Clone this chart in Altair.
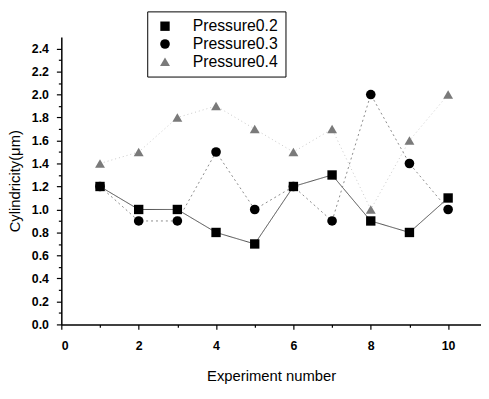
import altair as alt
import pandas as pd

experiments = [1, 2, 3, 4, 5, 6, 7, 8, 9, 10]
series_names = ["Pressure0.2", "Pressure0.3", "Pressure0.4"]
p02 = [1.2, 1.0, 1.0, 0.8, 0.7, 1.2, 1.3, 0.9, 0.8, 1.1]
p03 = [1.2, 0.9, 0.9, 1.5, 1.0, 1.2, 0.9, 2.0, 1.4, 1.0]
p04 = [1.4, 1.5, 1.8, 1.9, 1.7, 1.5, 1.7, 1.0, 1.6, 2.0]

x_ticks = [0, 1, 2, 3, 4, 5, 6, 7, 8, 9, 10]
y_ticks = [round(i * 0.1, 1) for i in range(0, 25)]

rows = []
for name, vals in zip(series_names, [p02, p03, p04]):
    for x, v in zip(experiments, vals):
        rows.append({"exp": x, "val": v, "series": name})
df = pd.DataFrame(rows)

xscale = alt.Scale(domain=[0, 10.85], nice=False, zero=False)
yscale = alt.Scale(domain=[0, 2.5], nice=False)

xaxis = alt.Axis(
    values=x_ticks,
    labelExpr="datum.value % 2 == 0 ? format(datum.value, 'd') : ''",
    tickSize={"condition": {"test": "datum.value % 2 == 1", "value": 3}, "value": 5},
    title="Experiment number",
    grid=False,
)
yaxis = alt.Axis(
    values=y_ticks,
    labelExpr="round(datum.value * 10) % 2 == 0 ? format(datum.value, '.1f') : ''",
    tickSize={"condition": {"test": "round(datum.value * 10) % 2 == 1", "value": 3}, "value": 5},
    title="Cylindricity(\u03bcm)",
    grid=False,
)

line_styles = {
    "Pressure0.2": {"color": "#4a4a4a", "strokeDash": [1, 0], "strokeWidth": 1},
    "Pressure0.3": {"color": "#8a8a8a", "strokeDash": [2, 3], "strokeWidth": 1},
    "Pressure0.4": {"color": "#c8c8c8", "strokeDash": [1, 3], "strokeWidth": 1},
}

base = alt.Chart(df)
layers = []
for name in series_names:
    st = line_styles[name]
    layers.append(
        base.transform_filter(alt.datum.series == name)
        .mark_line(color=st["color"], strokeDash=st["strokeDash"], strokeWidth=st["strokeWidth"])
        .encode(
            x=alt.X("exp:Q", scale=xscale, axis=xaxis),
            y=alt.Y("val:Q", scale=yscale, axis=yaxis),
        )
    )

points = base.mark_point(filled=True, opacity=1).encode(
    x=alt.X("exp:Q", scale=xscale, axis=xaxis),
    y=alt.Y("val:Q", scale=yscale, axis=yaxis),
    shape=alt.Shape(
        "series:N",
        scale=alt.Scale(domain=series_names, range=["square", "circle", "triangle-up"]),
        legend=alt.Legend(title=None),
    ),
    color=alt.Color(
        "series:N",
        scale=alt.Scale(domain=series_names, range=["#000000", "#000000", "#7a7a7a"]),
        legend=alt.Legend(title=None),
    ),
    size=alt.Size(
        "series:N",
        scale=alt.Scale(domain=series_names, range=[90, 100, 40]),
        legend=None,
    ),
)
layers.append(points)

chart = (
    alt.layer(*layers)
    .properties(
        width=425,
        height=291,
        autosize="none",
        padding={"left": 54, "top": 27, "right": 0, "bottom": 65},
    )
    .configure_view(stroke=None)
    .configure_axis(
        domainColor="#000000",
        domainWidth=1.5,
        tickColor="#000000",
        tickWidth=1.2,
        labelFont="Liberation Sans",
        labelFontSize=12.5,
        labelColor="#000000",
        labelFontWeight="bold",
        titleFont="Liberation Sans",
        titleFontSize=15,
        titleFontWeight="normal",
        titleColor="#000000",
    )
    .configure_axisX(labelPadding=10, titlePadding=17)
    .configure_axisY(labelPadding=8, titlePadding=9)
    .configure_legend(
        orient="none",
        legendX=87,
        legendY=-26,
        strokeColor="#000000",
        strokeWidth=1,
        fillColor="#ffffff",
        padding=7,
        labelFont="Liberation Sans",
        labelFontSize=16,
        labelColor="#000000",
        symbolSize=70,
        rowPadding=2,
        labelOffset=20,
        symbolOffset=3,
    )
)

chart.save("out.html", embed_options={"renderer": "svg", "actions": False})
